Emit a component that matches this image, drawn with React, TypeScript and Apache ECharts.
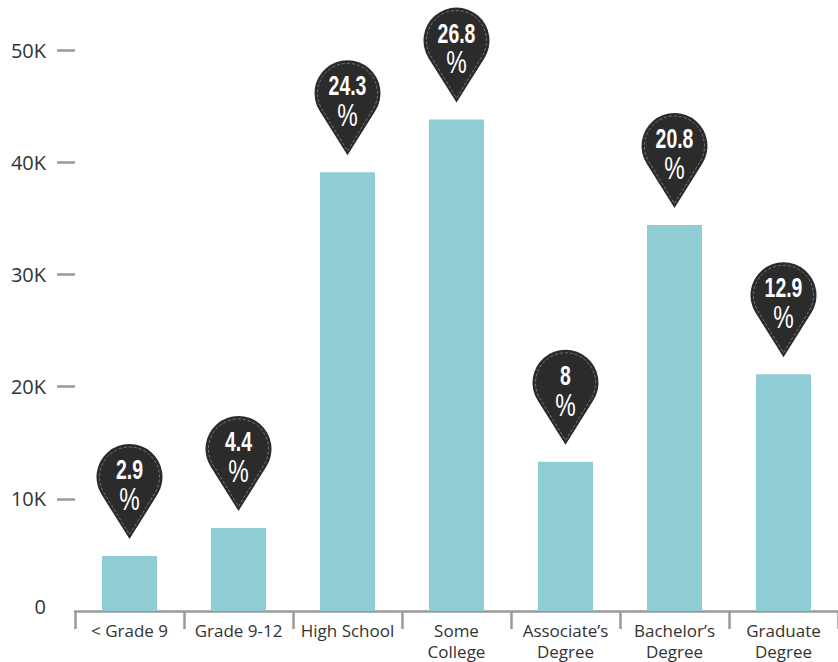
import React, { useEffect, useRef } from "react";
import * as echarts from "echarts";

const categories = [
  "< Grade 9",
  "Grade 9-12",
  "High School",
  "Some\nCollege",
  "Associate\u2019s\nDegree",
  "Bachelor\u2019s\nDegree",
  "Graduate\nDegree",
];
const counts = [4900, 7400, 39100, 43800, 13300, 34400, 21100];
const percents = ["2.9", "4.4", "24.3", "26.8", "8", "20.8", "12.9"];
const yTicks = [10000, 20000, 30000, 40000, 50000];

const PIN_R = 33;
const PIN_TIP = 62;
const pinPath = (r: number, d: number) => {
  const c = r / d;
  const s = Math.sqrt(1 - c * c);
  const tx = r * s;
  const ty = r * c;
  return `M0 ${d} L${tx} ${ty} A${r} ${r} 0 1 0 ${-tx} ${ty} Z`;
};

export default function App() {
  const ref = useRef<HTMLDivElement>(null);
  useEffect(() => {
    if (!ref.current) return;
    const chart = echarts.init(ref.current, null, { renderer: "svg" });
    const numFont = '"Liberation Sans", Arial, sans-serif';
    chart.setOption({
      animation: false,
      grid: { left: 75, right: 0, top: 50, bottom: 51 },
      xAxis: {
        type: "category",
        data: categories,
        axisLine: { show: true, lineStyle: { color: "#9a9a9a", width: 2.5 } },
        axisTick: { show: true, length: 18, lineStyle: { color: "#9a9a9a", width: 2.5 } },
        axisLabel: {
          interval: 0,
          margin: 9,
          color: "#333",
          fontFamily: "Open Sans",
          fontSize: 17,
          lineHeight: 21,
        },
      },
      yAxis: {
        type: "value",
        min: 0,
        max: 50000,
        interval: 10000,
        splitLine: { show: false },
        axisLine: { show: false },
        axisTick: {
          show: true,
          length: 18,
          customValues: yTicks,
          lineStyle: { color: "#9a9a9a", width: 2.5 },
        },
        axisLabel: {
          margin: 29,
          color: "#333",
          fontFamily: "Open Sans",
          fontSize: 20,
          formatter: (v: number) => (v === 0 ? "{z|0}" : v / 1000 + "K"),
          rich: {
            z: {
              color: "#333",
              fontFamily: "Open Sans",
              fontSize: 20,
              padding: [0, 0, 10, 0],
            },
          },
        },
      },
      series: [
        {
          type: "bar",
          data: counts,
          barWidth: 55,
          itemStyle: { color: "#8ECDD3" },
        },
        {
          type: "custom",
          data: counts.map((v, i) => [i, v]),
          encode: { x: 0, y: 1 },
          clip: false,
          z: 5,
          renderItem: (params: any, api: any) => {
            const pt = api.coord([api.value(0), api.value(1)]);
            const cy = pt[1] - 17 - PIN_TIP;
            return {
              type: "group",
              x: pt[0],
              y: cy,
              children: [
                {
                  type: "path",
                  shape: { pathData: pinPath(PIN_R, PIN_TIP) },
                  style: { fill: "#2b2b2b", stroke: "none" },
                },
                {
                  type: "path",
                  shape: { pathData: pinPath(30, 57.5) },
                  style: {
                    fill: "none",
                    stroke: "#8a8a8a",
                    lineWidth: 0.8,
                    lineDash: [3, 2],
                  },
                },
                {
                  type: "text",
                  x: 0,
                  y: -7,
                  scaleX: 0.72,
                  style: {
                    text: percents[params.dataIndex],
                    x: 0,
                    y: 0,
                    align: "center",
                    verticalAlign: "middle",
                    fill: "#fff",
                    fontFamily: numFont,
                    fontWeight: "bold",
                    fontSize: 27,
                  },
                },
                {
                  type: "text",
                  x: 0,
                  y: 22,
                  scaleX: 0.72,
                  style: {
                    text: "%",
                    x: 0,
                    y: 0,
                    align: "center",
                    verticalAlign: "middle",
                    fill: "#fff",
                    fontFamily: numFont,
                    fontWeight: "normal",
                    fontSize: 32,
                  },
                },
              ],
            };
          },
        },
      ],
    });
    return () => chart.dispose();
  }, []);
  return (
    <div
      ref={ref}
      style={{ position: "absolute", left: 0, top: 0, width: 838, height: 662 }}
    />
  );
}
